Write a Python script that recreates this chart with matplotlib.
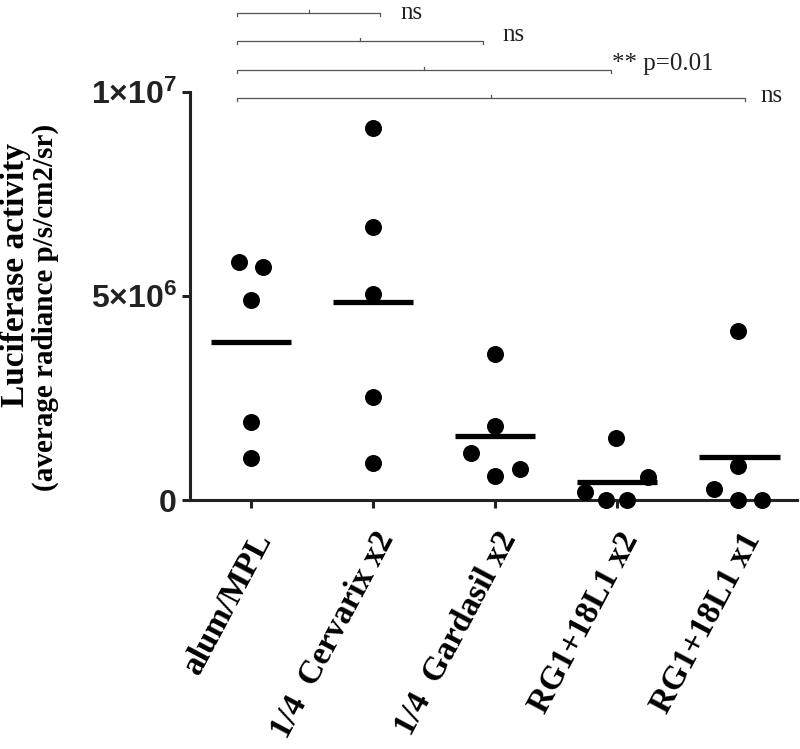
"""Luciferase activity per vaccine group: dot plot with group means and
significance brackets against alum/MPL."""

import matplotlib
matplotlib.use("Agg")
import matplotlib.pyplot as plt
import matplotlib.transforms as mtransforms
import numpy as np

GROUPS = ["alum/MPL", "1/4  Cervarix x2", "1/4  Gardasil x2",
          "RG1+18L1 x2", "RG1+18L1 x1"]
VALUES = [
    [5.84e6, 5.71e6, 4.90e6, 1.91e6, 1.03e6],
    [9.11e6, 6.70e6, 5.04e6, 2.52e6, 0.91e6],
    [3.58e6, 1.81e6, 1.16e6, 0.75e6, 0.60e6],
    [1.51e6, 0.56e6, 0.19e6, 0.0, 0.0],
    [4.15e6, 0.83e6, 0.27e6, 0.0, 0.0],
]
# horizontal scatter of the dots within each column (in category units)
JITTER = [
    [-0.10, 0.10, 0.0, 0.0, 0.0],
    [0.0, 0.0, 0.0, 0.0, 0.0],
    [0.0, 0.0, -0.20, 0.20, 0.0],
    [-0.01, 0.25, -0.26, -0.09, 0.08],
    [-0.01, -0.01, -0.21, -0.01, 0.19],
]
YTICKS = [0, 5e6, 1e7]
YTICK_LABELS = ["0", "5×10$^6$", "1×10$^7$"]
STAT_LABELS = ["ns", "ns", "** p=0.01", "ns"]   # alum/MPL vs groups 2..5

plt.rcParams["mathtext.fontset"] = "custom"
plt.rcParams["mathtext.rm"] = "Liberation Sans:bold"
plt.rcParams["mathtext.default"] = "rm"


def main() -> None:
    fig = plt.figure(figsize=(8, 7.49), dpi=100)
    ax = fig.add_axes([0.2375, 0.3324, 0.759, 0.5447])

    for i, vals in enumerate(VALUES):
        xs = i + np.array(JITTER[i])
        ax.scatter(xs, vals, s=150, color="black", zorder=3, clip_on=False,
                   linewidths=0)
        ax.hlines(np.mean(vals), i - 0.33, i + 0.33, color="black",
                  linewidth=3.8, zorder=4)

    ax.set_xlim(-0.5, 4.475)
    ax.set_ylim(0, 1e7)
    ax.spines[["top", "right"]].set_visible(False)
    for s in ("left", "bottom"):
        ax.spines[s].set_linewidth(2.2)
        ax.spines[s].set_color("#222222")
    ax.tick_params(width=2.2, length=6, color="#222222")

    ax.set_yticks(YTICKS, YTICK_LABELS, fontfamily="Liberation Sans",
                  fontweight="bold", fontsize=23, color="#222222")
    ax.set_xticks(range(len(GROUPS)), GROUPS, rotation=62, ha="right",
                  rotation_mode="anchor", fontfamily="Liberation Serif",
                  fontweight="bold", fontsize=24)
    shift = mtransforms.ScaledTranslation(0.0, -0.14, fig.dpi_scale_trans)
    for lab in ax.get_xticklabels():
        lab.set_transform(lab.get_transform() + shift)

    # two-line y label, drawn as separate lines to match spacing
    fig.text(0.019, 1 - 275 / 749, "Luciferase activity", rotation=90,
             ha="center", va="center", fontfamily="Liberation Serif",
             fontweight="bold", fontsize=24)
    fig.text(0.057, 1 - 307 / 749, "(average radiance p/s/cm2/sr)",
             rotation=90, ha="center", va="center",
             fontfamily="Liberation Serif", fontweight="bold", fontsize=21)

    # significance brackets from alum/MPL to each other group
    x0 = -0.115
    ends = [1.06, 1.90, 2.95, 4.05]
    levels = [11.94e6, 11.25e6, 10.54e6, 9.85e6]
    gaps = [0.16, 0.16, 0.01, 0.12]
    lifts = [0.0, 0.15e6, 0.15e6, 0.05e6]
    tick = 0.08e6
    for k, lab in enumerate(STAT_LABELS):
        x1, y = ends[k], levels[k]
        ax.plot([x0, x0, x1, x1], [y - tick, y, y, y - tick], color="#555555",
                linewidth=0.9, clip_on=False)
        xm = (x0 + x1) / 2
        ax.plot([xm, xm], [y, y + tick], color="#555555", linewidth=0.9,
                clip_on=False)
        ax.text(x1 + gaps[k], y + lifts[k], lab, ha="left", va="center",
                fontfamily="Liberation Serif", fontsize=18, color="#222222",
                clip_on=False)

    fig.savefig("out.png", dpi=100)


if __name__ == "__main__":
    main()
